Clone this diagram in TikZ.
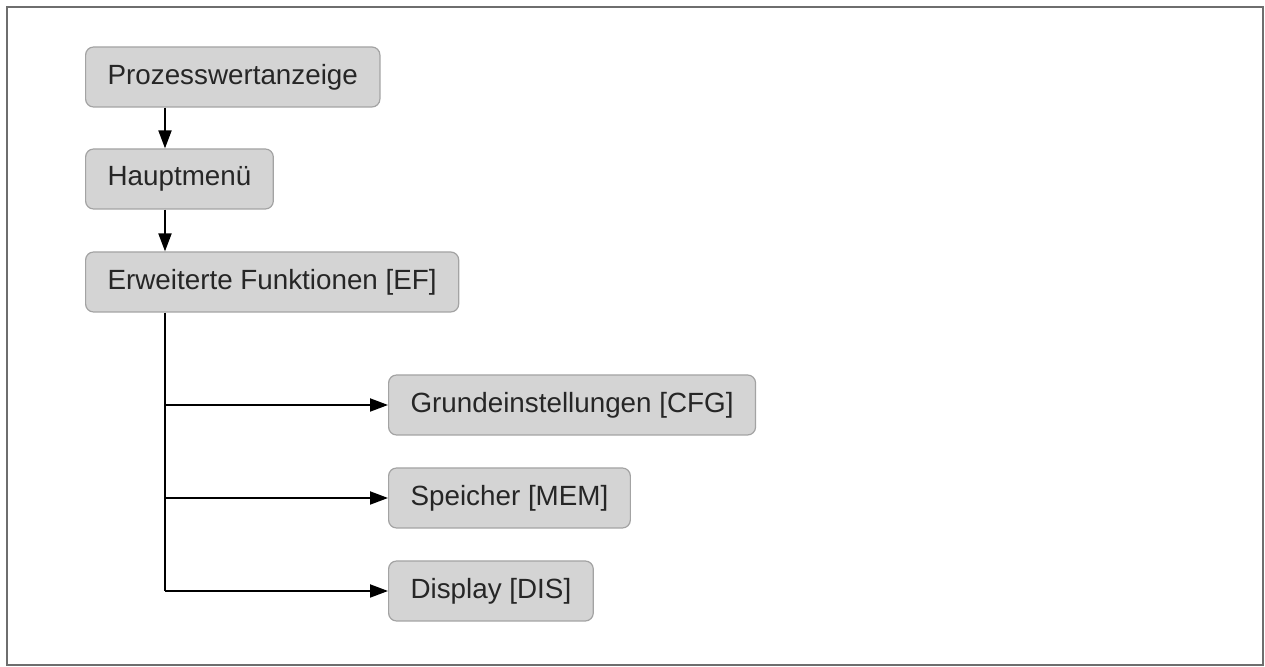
\documentclass[tikz,border=0pt]{standalone}
\usepackage{fontspec}
\setmainfont{Liberation Sans}
\usepackage{tikz}
\usetikzlibrary{arrows.meta,positioning}
\definecolor{boxfill}{HTML}{D4D4D4}
\definecolor{boxline}{HTML}{A3A3A3}
\definecolor{framegray}{HTML}{6E6E6E}
\tikzset{
  basic/.style  = {draw=boxline, fill=boxfill, rectangle, rounded corners=4pt, line width=0.6pt},
  menu/.style   = {basic, anchor=west, minimum height=30pt, inner xsep=11pt,
                   font=\fontsize{13.9pt}{16pt}\selectfont, text=black!85},
  link/.style   = {draw, line width=1pt, -{Triangle[length=9pt,width=6.5pt]}}
}
\begin{document}
\begin{tikzpicture}[x=0.5pt,y=-0.5pt]
\useasboundingbox (0,0) rectangle (1265,667);
\draw[framegray, line width=1pt] (7,7) rectangle (1263,665);
% menu path
\node[menu] (pw)  at (85,77)  {Prozesswertanzeige};
\node[menu] (hm)  at (85,179) {Hauptmen\"u};
\node[menu] (ef)  at (85,282) {Erweiterte Funktionen [EF]};
\node[menu] (cfg) at (388,405) {Grundeinstellungen [CFG]};
\node[menu] (mem) at (388,498) {Speicher [MEM]};
\node[menu] (dis) at (388,591) {Display [DIS]};
\coordinate (trunk) at (165,0);
\draw[link] (pw.south -| trunk) -- (hm.north -| trunk);
\draw[link] (hm.south -| trunk) -- (ef.north -| trunk);
\draw[line width=1pt] (ef.south -| trunk) -- (trunk |- dis.west);
\draw[link] (trunk |- cfg.west) -- (cfg.west);
\draw[link] (trunk |- mem.west) -- (mem.west);
\draw[link] (trunk |- dis.west) -- (dis.west);
\end{tikzpicture}
\end{document}
